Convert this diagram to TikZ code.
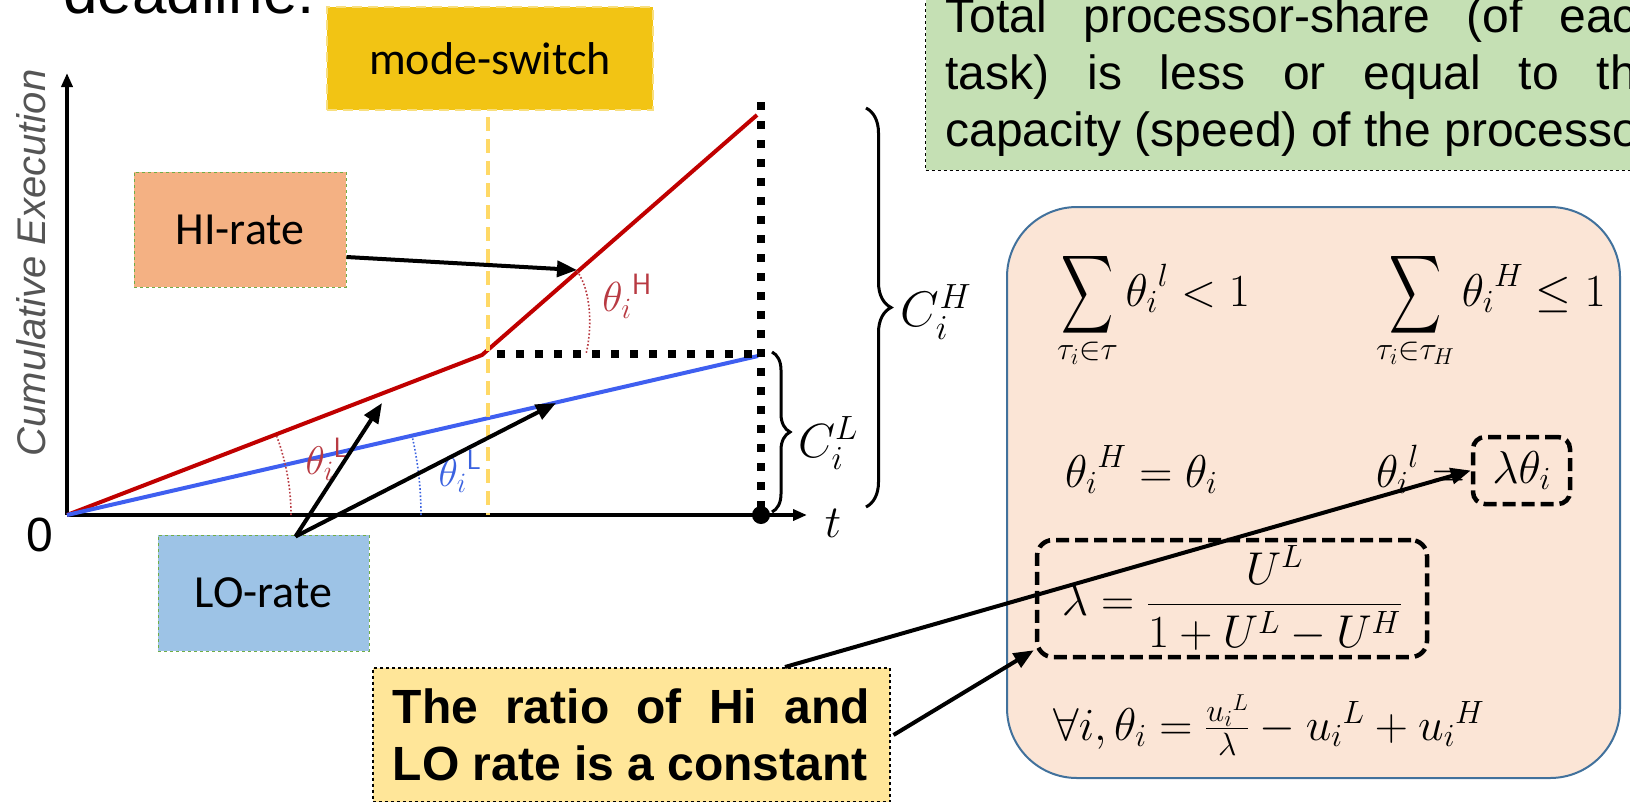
\RequirePackage{fix-cm}
\documentclass[tikz,border=0pt]{standalone}
\usepackage{amsmath}
\usepackage{exscale}
\usepackage[no-math]{fontspec}
\usepackage{graphicx}
\newfontfamily\arial{Liberation Sans}
\newfontfamily\calib{Carlito}
\usetikzlibrary{arrows.meta,decorations.pathreplacing,calc}
\definecolor{redln}{HTML}{C00000}
\definecolor{blueln}{HTML}{3F5FF0}
\definecolor{labred}{HTML}{B83A42}
\definecolor{labblue}{HTML}{3A62E0}
\definecolor{msgold}{HTML}{F2C414}
\definecolor{msline}{HTML}{FFD966}
\definecolor{hifill}{HTML}{F4B183}
\definecolor{lofill}{HTML}{9DC3E6}
\definecolor{boxgreen}{HTML}{70AD47}
\definecolor{greenfill}{HTML}{C5E0B4}
\definecolor{formfill}{HTML}{FBE5D6}
\definecolor{formborder}{HTML}{41719C}
\definecolor{ratiofill}{HTML}{FFE699}
\definecolor{axisgray}{HTML}{555555}
\newcommand\mysum{\mathop{\vcenter{\hbox{\scalebox{1.45}[2.2]{$\displaystyle\sum$}}}}\limits}
\begin{document}
\tolerance=10000
\hyphenpenalty=10000
\exhyphenpenalty=10000
\begin{tikzpicture}[x=1pt,y=-1pt,
  axisline/.style={line width=4pt,-{Triangle[length=14pt,width=11pt]}},
  redline/.style={redln,line width=4pt,line join=round},
  blueline/.style={blueln,line width=4pt},
  dotline/.style={line width=8pt,dash pattern=on 8pt off 11pt},
  msdash/.style={msline,line width=4.5pt,dash pattern=on 14pt off 8pt},
  arrowline/.style={line width=4pt,-{Triangle[length=20pt,width=16pt]}},
  ratebox/.style={draw=boxgreen,dashed,line width=1pt,inner sep=0pt,font=\calib\fontsize{46}{50}\selectfont},
  msbox/.style={fill=msgold,draw=msgold!55!white,dash pattern=on 10pt off 6pt,line width=2pt,inner sep=0pt,minimum width=326pt,minimum height=103pt,font=\calib\fontsize{46}{50}\selectfont},
  greenbox/.style={fill=greenfill,draw=black,dashed,line width=1.2pt,text width=718pt,align=justify,inner xsep=20pt,inner ysep=14pt,font=\arial\fontsize{48}{57}\selectfont},
  ratiobox/.style={fill=ratiofill,draw=black,dashed,line width=1.5pt,text width=477pt,align=justify,inner xsep=20pt,inner ysep=21pt,font=\arial\bfseries\fontsize{48}{57}\selectfont},
  formbox/.style={fill=formfill,draw=formborder,line width=2pt,rounded corners=70pt,minimum width=613pt,minimum height=571pt,inner sep=0pt},
  dbox/.style={draw=black,line width=4.5pt,dash pattern=on 13pt off 6pt,inner sep=0pt,font=\fontsize{46}{50}\selectfont},
  mathtxt/.style={inner sep=0pt,font=\fontsize{46}{50}\selectfont},
  lbl/.style={inner sep=0pt},
  bracestyle/.style={line width=3pt,decorate}
]
\useasboundingbox (0,0) rectangle (1630,801);
\clip (0,0) rectangle (1630,801);

% top-left cut text
\node[lbl,anchor=base west,font=\arial\fontsize{62}{70}\selectfont] (deadline) at (63,13) {deadline:};

% green box (clipped)
\node[greenbox,anchor=south west] (share) at (925,171) {\noindent Total processor-share (of each task) is less or equal to the capacity (speed) of the processor};

% formula box
\node[formbox] (fb) at (1313.5,492.5) {};

% axes
\coordinate (O) at (67,515);
\coordinate (xend) at (807,515);
\coordinate (yend) at (67,73);
\coordinate (K) at (482,355);
\coordinate (R) at (757,115);
\coordinate (B) at (758,356);
\coordinate (D) at (761,515);
\coordinate (Dtop) at (761,102);
\coordinate (Hs) at (497,354);
\coordinate (He) at (761,354);

\draw[axisline] (O) -- (xend);
\draw[axisline] (O) -- (yend);

% rate lines
\draw[redline] (O) -- (K) -- (R);
\draw[blueline] (O) -- (B);

% angle arcs
\draw[labred,line width=1.6pt,dotted] (O) ++(224,0) arc[start angle=0,end angle=-21,radius=224];
\draw[labblue,line width=1.6pt,dotted] (O) ++(354,0) arc[start angle=0,end angle=-13,radius=354];
\draw[labred,line width=1.6pt,dotted] (577,271) .. controls (592,292) and (592,330) .. (586,354);

% mode-switch
\node[msbox] (ms) at (490,58.5) {mode-switch};
\coordinate (msbot) at (488,515);
\draw[msdash] ([xshift=-2pt,yshift=-6pt]ms.south) -- (msbot);

% dotted guide lines
\draw[dotline] (Hs) -- (He);
\draw[dotline] (Dtop) -- (D);
\fill (D) circle[radius=9];

% braces
\draw[bracestyle,decoration={brace,amplitude=25pt,aspect=0.5}] (866,108) -- (866,507);
\draw[bracestyle,decoration={brace,amplitude=18pt,aspect=0.5}] (772,352) -- (772,512);

% labels of the graph
\node[lbl,font=\arial\itshape\fontsize{40}{44}\selectfont,text=axisgray,rotate=90] (ylab) at (31,263) {Cumulative Execution};
\node[lbl,font=\arial\fontsize{48}{52}\selectfont] (zero) at (40,535) {0};
\node[lbl,font=\fontsize{46}{50}\selectfont] (tlab) at (833,523) {$t$};
\node[lbl,font=\fontsize{50}{54}\selectfont] (CH) at (936,312) {$C_i^H$};
\node[lbl,font=\fontsize{48}{52}\selectfont] (CL) at (828,443) {$C_i^L$};
\node[lbl,font=\fontsize{42}{46}\selectfont,text=labred] (thH) at (627,296) {${\theta_i}^{\mathsf{H}}$};
\node[lbl,font=\fontsize{40}{44}\selectfont,text=labred] (thLr) at (327,459) {${\theta_i}^{\mathsf{L}}$};
\node[lbl,font=\fontsize{40}{44}\selectfont,text=labblue] (thLb) at (460,471) {${\theta_i}^{\mathsf{L}}$};

% rate boxes
\node[ratebox,fill=hifill,minimum width=212pt,minimum height=115pt] (hi) at (240,229.5) {HI-rate};
\node[ratebox,fill=lofill,minimum width=211pt,minimum height=116pt] (lo) at (263.5,593) {LO-rate};

\coordinate (hitip) at (577,270);
\coordinate (lotipA) at (382,403);
\coordinate (lotipB) at (556,403);
\draw[arrowline] ([yshift=-27.5pt]hi.east) -- (hitip);
\draw[arrowline] ([xshift=32pt,yshift=-2pt]lo.north) -- (lotipA);
\draw[arrowline] ([xshift=32pt,yshift=-2pt]lo.north) -- (lotipB);

% formulas
\node[mathtxt,anchor=base west] (s1) at (1057,306) {$\mysum_{\tau_i\in\tau}{\theta_i}^{l}<1$};
\node[mathtxt,anchor=base west] (s2) at (1376,306) {$\mysum_{\tau_i\in\tau_H}{\theta_i}^{H}\le 1$};
\node[mathtxt,anchor=base west] (e1) at (1065,487) {${\theta_i}^{H}=\theta_i$};
\node[mathtxt,anchor=base west] (e2) at (1376,487) {${\theta_i}^{l}=$};
\node[dbox,rounded corners=12pt,minimum width=97pt,minimum height=67pt] (lt) at (1521.5,470.5) {$\lambda\theta_i$};
\node[dbox,rounded corners=16pt,minimum width=390pt,minimum height=117pt] (lb) at (1232,598.5) {$\displaystyle\lambda=\frac{U^L}{1+U^L-U^H}$};
\node[mathtxt,anchor=base west] (ll) at (1053,740) {$\forall i,\theta_i=\frac{{u_i}^L}{\lambda}-{u_i}^L+{u_i}^H$};

% ratio box
\node[ratiobox,anchor=north west] (ratio) at (372,667) {\noindent The ratio of Hi and\linebreak LO rate is a constant};
\draw[arrowline] ([xshift=413pt]ratio.north west) -- (lt.west);
\draw[arrowline] ([xshift=3pt,yshift=-68pt]ratio.north east) -- ([xshift=-1pt,yshift=9pt]lb.south west);
\end{tikzpicture}
\end{document}
